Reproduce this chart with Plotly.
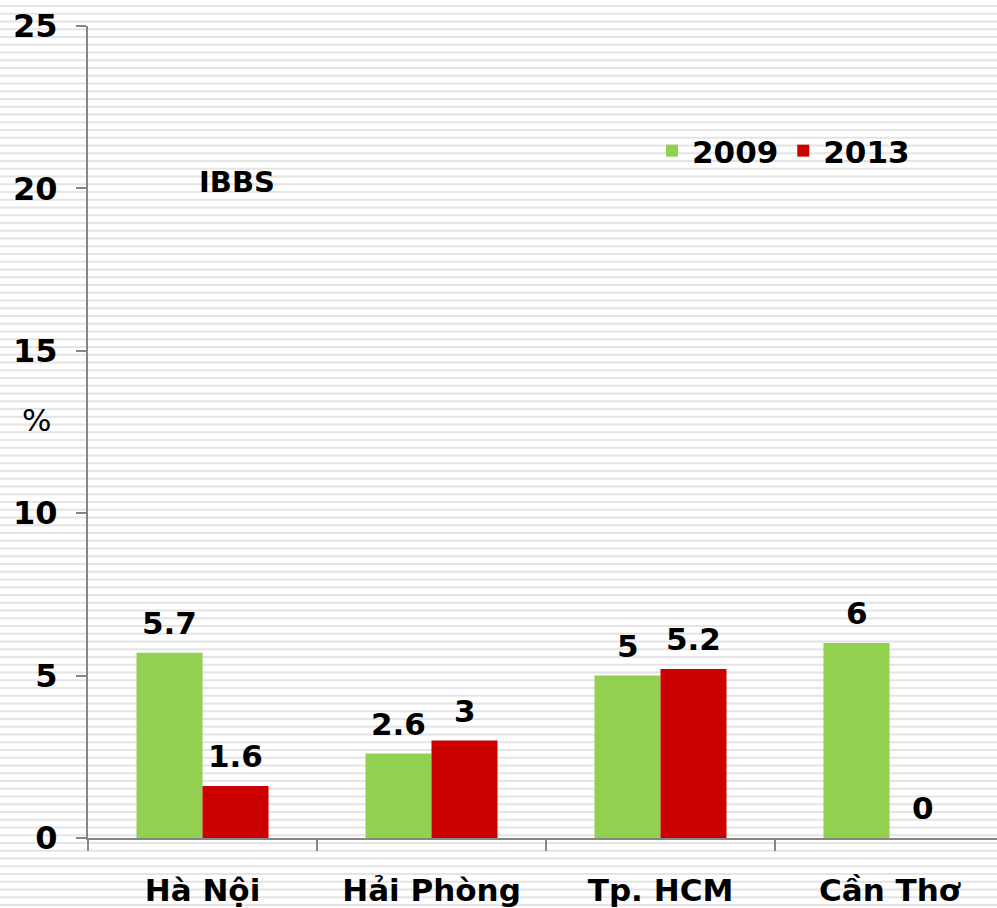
import plotly.graph_objects as go

# ---- data ----
categories = ["Hà Nội", "Hải Phòng", "Tp. HCM", "Cần Thơ"]
series_names = ["2009", "2013"]
values_2009 = [5.7, 2.6, 5.0, 6.0]
values_2013 = [1.6, 3.0, 5.2, 0.0]
y_ticks = [0, 5, 10, 15, 20, 25]
label_2009 = ["5.7", "2.6", "5", "6"]
label_2013 = ["1.6", "3", "5.2", "0"]

# ---- style ----
W, H = 997, 908
FONT = "DejaVu Sans"
GREEN = "#92D050"
RED = "#CC0000"
AXIS = "#868686"

plot_left, plot_right = 88, 997
plot_top, plot_bottom = 26, 838
cat_w = 229.0
bar_w = 66.0

fig = go.Figure()
annotations = []
series = [("2009", values_2009, label_2009, GREEN, -bar_w / 2),
          ("2013", values_2013, label_2013, RED, bar_w / 2)]
for name, vals, labs, col, shift in series:
    fig.add_trace(go.Bar(
        x=categories, y=vals, name=name,
        marker=dict(color=col, line=dict(width=0)),
        hoverinfo="x+y",
    ))
    for c, v, t in zip(categories, vals, labs):
        annotations.append(dict(
            text=t, x=c, y=v, xref="x", yref="y", xshift=shift, yshift=10,
            showarrow=False, xanchor="center", yanchor="bottom",
            font=dict(family=FONT, size=31, color="black", weight="bold")))

# background stripes
shapes = []
period = 7.75
yy = 6.0
while yy < H:
    py = 1 - yy / H
    shapes.append(dict(type="line", xref="paper", yref="paper",
                       x0=0, x1=1, y0=py, y1=py, layer="below",
                       line=dict(color="#e4e4e4", width=2)))
    yy += period

x_range = [-0.5, -0.5 + (plot_right - plot_left) / cat_w]

annotations += [
    dict(text="IBBS", xref="paper", yref="paper", x=237 / W, y=1 - 182 / H,
         showarrow=False, xanchor="center", yanchor="middle",
         font=dict(family=FONT, size=29, color="black", weight="bold")),
    dict(text="%", xref="paper", yref="paper", x=36 / W, y=1 - 420 / H,
         showarrow=False, xanchor="center", yanchor="middle",
         font=dict(family=FONT, size=31, color="black")),
]

fig.update_layout(
    template="none",
    width=W, height=H, autosize=False,
    margin=dict(l=0, r=0, t=0, b=0, pad=0),
    paper_bgcolor="white",
    plot_bgcolor="rgba(0,0,0,0)",
    barmode="group",
    bargap=1 - 2 * bar_w / cat_w,
    bargroupgap=0,
    font=dict(family=FONT, color="black"),
    shapes=shapes,
    showlegend=True,
    legend=dict(orientation="h", x=652 / W, y=1 - 151 / H,
                xanchor="left", yanchor="middle",
                bgcolor="rgba(0,0,0,0)", borderwidth=0,
                font=dict(family=FONT, size=31, color="black", weight="bold"),
                itemwidth=30, tracegroupgap=0),
    xaxis=dict(
        domain=[plot_left / W, 1],
        range=x_range, automargin=False,
        showline=True, linecolor=AXIS, linewidth=2,
        ticks="outside", ticklen=11, tickcolor=AXIS, tickwidth=2,
        tickson="boundaries",
        showgrid=False, zeroline=False,
        tickfont=dict(family=FONT, size=31, color="black", weight="bold"),
        ticklabelstandoff=24,
        fixedrange=True,
    ),
    yaxis=dict(
        domain=[1 - plot_bottom / H, 1 - plot_top / H],
        range=[0, 25], automargin=False,
        tickvals=y_ticks,
        showline=True, linecolor=AXIS, linewidth=2,
        ticks="outside", ticklen=10, tickcolor=AXIS, tickwidth=2,
        showgrid=False, zeroline=False,
        tickfont=dict(family=FONT, size=32, color="black", weight="bold"),
        ticklabelstandoff=12,
        fixedrange=True,
    ),
    annotations=annotations,
)

fig.write_html("out.html", config={"displayModeBar": False},
               post_script="document.body.style.margin='0';")
